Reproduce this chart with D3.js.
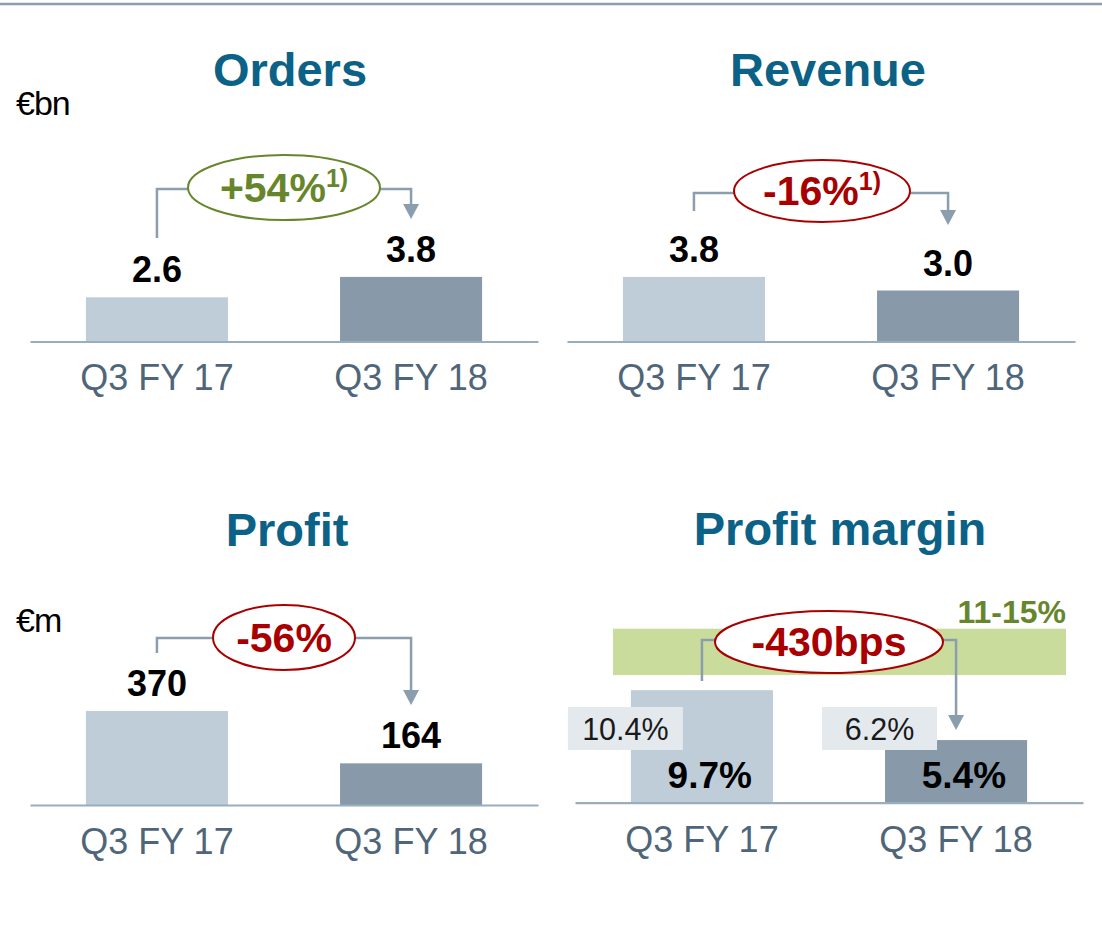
<!DOCTYPE html>
<html>
<head>
<meta charset="utf-8">
<script src="https://cdnjs.cloudflare.com/ajax/libs/d3/7.8.5/d3.min.js"></script>
<style>
  html, body { margin: 0; padding: 0; background: #fff; }
  svg { display: block; font-family: "Liberation Sans", Arial, sans-serif; }
</style>
</head>
<body>
<svg id="chart" width="1102" height="928"></svg>
<script>
// Data
const periods = ['Q3 FY 17', 'Q3 FY 18']
const orders = [2.6, 3.8]
const revenue = [3.8, 3.0]
const profit = [370, 164]
const margin = [9.7, 5.4]
const marginPrior = [10.4, 6.2]
const marginTarget = [11, 15]
const titles = ['Orders', 'Revenue', 'Profit', 'Profit margin']
const changes = ['+54%', '-16%', '-56%', '-430bps']
const footnotes = ['1)', '1)', '', '']
const units = ['€bn', '€m']

/*----------------------------------------------------------------------------*/

const colors = {
  title: '#0b6286',
  barOld: '#bfcdd8',
  barNew: '#889aaa',
  axis: '#9aadbc',
  tick: '#4f667a',
  link: '#8b9eae',
  up: '#67862c',
  down: '#a80000',
  prior: '#e4e9ee',
  target: '#c9dc9c',
}

const svg = d3.select('#chart')

svg.append('line')
  .attr('x1', 0).attr('x2', 1102)
  .attr('y1', 4).attr('y2', 4)
  .attr('stroke', '#8c9fb0')
  .attr('stroke-width', 2.5)

const panels = [
  { values: orders, xr: [30, 538], base: 341.5, dom: [0, 1], top: 324.5, tx: 290, ty: 86,
    link: { y0: 238, y1: 189, tip: 219, cx: 284, cy: 187.5, rx: 96, ry: 32.5 } },
  { values: revenue, xr: [567, 1075], base: 341.5, dom: [0, 1], top: 324.5, tx: 828, ty: 86,
    link: { y0: 211, y1: 193, tip: 225, cx: 822, cy: 191, rx: 88, ry: 31 } },
  { values: profit, xr: [30, 538], base: 805, dom: [0, 370], top: 711, tx: 287, ty: 546,
    link: { y0: 653, y1: 638, tip: 705, cx: 284, cy: 637.5, rx: 71, ry: 32.5 } },
  { values: margin, xr: [575, 1083], base: 802.7, dom: [0, 15], top: 628.7, tx: 840, ty: 545,
    link: { y0: 681, y1: 640, tip: 730, cx: 829, cy: 642, rx: 114, ry: 31 } },
]

panels.forEach((p, i) => {
  const x = d3.scaleBand()
    .domain(periods)
    .range(p.xr)
    .paddingInner(0.441)
    .paddingOuter(0.22)

  const y = d3.scaleLinear()
    .domain(p.dom)
    .range([p.base, p.top])

  const g = svg.append('g')
  const isMargin = i === 3

  // title
  g.append('text')
    .attr('x', p.tx)
    .attr('y', p.ty)
    .attr('text-anchor', 'middle')
    .style('font-size', '47px')
    .style('font-weight', 'bold')
    .style('fill', colors.title)
    .text(titles[i])

  // target band
  if (isMargin) {
    g.append('rect')
      .attr('x', 613)
      .attr('width', 1066 - 613)
      .attr('y', y(marginTarget[1]))
      .attr('height', y(marginTarget[0]) - y(marginTarget[1]))
      .attr('fill', colors.target)

    g.append('text')
      .attr('x', 1066)
      .attr('y', 623)
      .attr('text-anchor', 'end')
      .style('font-size', '32px')
      .style('font-weight', 'bold')
      .style('fill', colors.up)
      .text(`${marginTarget[0]}-${marginTarget[1]}%`)
  }

  // bars
  g.selectAll('.bar')
    .data(p.values)
    .enter()
    .append('rect')
    .attr('class', 'bar')
    .attr('x', (d, j) => x(periods[j]))
    .attr('width', x.bandwidth())
    .attr('y', d => y(d))
    .attr('height', d => p.base - y(d))
    .attr('fill', (d, j) => j === 0 ? colors.barOld : colors.barNew)

  // axis
  const axis = g.append('g')
    .attr('transform', `translate(0, ${p.base})`)
    .call(d3.axisBottom(x).tickSize(0).tickSizeOuter(0).tickPadding(23.4))

  axis.select('.domain')
    .attr('stroke', colors.axis)
    .attr('stroke-width', 2.2)
  axis.selectAll('text')
    .style('font-size', '36px')
    .style('font-family', '"Liberation Sans", Arial, sans-serif')
    .style('fill', colors.tick)

  // value labels
  if (isMargin) {
    g.selectAll('.prior')
      .data(marginPrior)
      .enter()
      .append('rect')
      .attr('x', (d, j) => x(periods[j]) - 63)
      .attr('width', 115)
      .attr('y', 707)
      .attr('height', 43)
      .attr('fill', colors.prior)

    g.selectAll('.priorText')
      .data(marginPrior)
      .enter()
      .append('text')
      .attr('x', (d, j) => x(periods[j]) - 5.5)
      .attr('y', 740)
      .attr('text-anchor', 'middle')
      .style('font-size', '30.5px')
      .style('fill', '#1a1a1a')
      .text(d => `${d.toFixed(1)}%`)

    g.selectAll('.val')
      .data(p.values)
      .enter()
      .append('text')
      .attr('x', (d, j) => x(periods[j]) + x.bandwidth() - 21)
      .attr('y', p.base - 15)
      .attr('text-anchor', 'end')
      .style('font-size', '37px')
      .style('font-weight', 'bold')
      .style('fill', '#000')
      .text(d => `${d.toFixed(1)}%`)
  } else {
    g.selectAll('.val')
      .data(p.values)
      .enter()
      .append('text')
      .attr('x', (d, j) => x(periods[j]) + x.bandwidth() / 2)
      .attr('y', d => y(d) - 15)
      .attr('text-anchor', 'middle')
      .style('font-size', '36px')
      .style('font-weight', 'bold')
      .style('fill', '#000')
      .text(d => i === 2 ? d3.format('d')(d) : d.toFixed(1))
  }

  // change connector
  const l = p.link
  const xa = x(periods[0]) + x.bandwidth() / 2
  const xb = x(periods[1]) + x.bandwidth() / 2
  const line = d3.line()

  g.append('path')
    .attr('d', line([[xa, l.y0], [xa, l.y1], [l.cx, l.y1], [xb, l.y1], [xb, l.tip - 14]]))
    .attr('fill', 'none')
    .attr('stroke', colors.link)
    .attr('stroke-width', 2.5)

  g.append('path')
    .attr('d', line([[xb - 8, l.tip - 15], [xb + 8, l.tip - 15], [xb, l.tip]]) + 'Z')
    .attr('fill', colors.link)

  const tone = changes[i][0] === '+' ? colors.up : colors.down

  g.append('ellipse')
    .attr('cx', l.cx)
    .attr('cy', l.cy)
    .attr('rx', l.rx)
    .attr('ry', l.ry)
    .attr('fill', '#fff')
    .attr('stroke', tone)
    .attr('stroke-width', 2)

  const label = g.append('text')
    .attr('x', l.cx)
    .attr('y', l.cy + 14)
    .attr('text-anchor', 'middle')
    .style('font-size', '41px')
    .style('font-weight', 'bold')
    .style('fill', tone)

  label.append('tspan').text(changes[i])
  if (footnotes[i]) {
    label.append('tspan')
      .attr('dy', -15)
      .style('font-size', '25px')
      .text(footnotes[i])
  }
})

// units
svg.selectAll('.unit')
  .data(units)
  .enter()
  .append('text')
  .attr('class', 'unit')
  .attr('x', 16)
  .attr('y', (d, i) => i === 0 ? 115 : 632)
  .style('font-size', '34px')
  .style('letter-spacing', '-1px')
  .style('fill', '#000')
  .text(d => d)
</script>
</body>
</html>
